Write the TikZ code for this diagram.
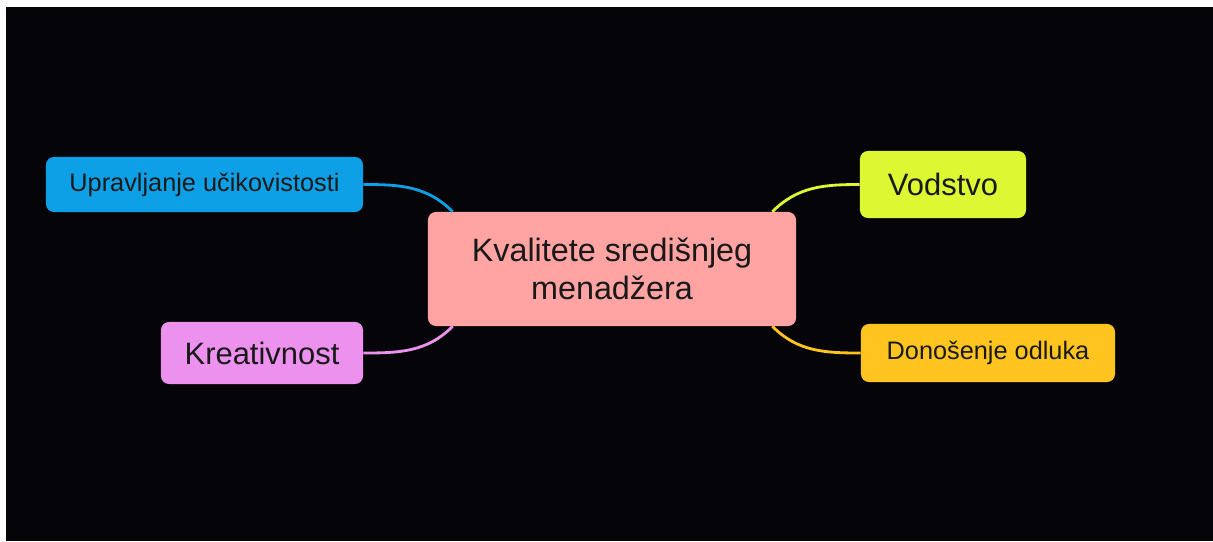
\documentclass[tikz,border=0pt]{standalone}
\usepackage{fontspec}
\setmainfont{Liberation Sans}
\usetikzlibrary{positioning,calc}

\definecolor{topicpink}{HTML}{FFA3A3}
\definecolor{skyblue}{HTML}{0EA0E6}
\definecolor{limeyellow}{HTML}{DDF733}
\definecolor{orchid}{HTML}{EC92EE}
\definecolor{amber}{HTML}{FFC41F}
\definecolor{bgblack}{HTML}{050408}

\begin{document}
\begin{tikzpicture}[
  x=0.025cm, y=-0.025cm,
  topic/.style={rounded corners=0.2cm, fill=topicpink, minimum width=9.2cm, minimum height=2.85cm, align=center, text=black!90, font=\fontsize{23}{27}\selectfont},
  branch/.style={rounded corners=0.2cm, minimum height=1.4cm, align=center, text=black!90, font=\fontsize{18}{22}\selectfont},
  bigbranch/.style={branch, font=\fontsize{22}{26}\selectfont},
  link/.style={line width=2pt}
]

% Page margin and black slide
\fill[white] (0,0) rectangle (1213,541);
\fill[bgblack] (6,7) rectangle (1213,541);

% Central topic
\node[topic] (cen) at (612,269) {Kvalitete središnjeg\\menadžera};

% Left branches
\node[branch, fill=skyblue, minimum width=7.925cm, minimum height=1.375cm] (upr) at (204.5,184.5) {Upravljanje učikovistosti};
\node[bigbranch, fill=orchid, minimum width=5.05cm, minimum height=1.55cm] (kre) at (262,353) {Kreativnost};

% Right branches
\node[bigbranch, fill=limeyellow, minimum width=4.15cm, minimum height=1.675cm] (vod) at (943,184.5) {Vodstvo};
\node[branch, fill=amber, minimum width=6.35cm, minimum height=1.45cm] (don) at (988,353) {Donošenje odluka};

% Links to the central topic
\draw[link, skyblue] (upr.east) to[out=0,in=135] ($(cen.north west)+(25,0)$);
\draw[link, orchid] (kre.east) to[out=0,in=-135] ($(cen.south west)+(25,0)$);
\draw[link, limeyellow] (vod.west) to[out=180,in=45] ($(cen.north east)+(-24,0)$);
\draw[link, amber] (don.west) to[out=180,in=-45] ($(cen.south east)+(-24,0)$);

\end{tikzpicture}
\end{document}
